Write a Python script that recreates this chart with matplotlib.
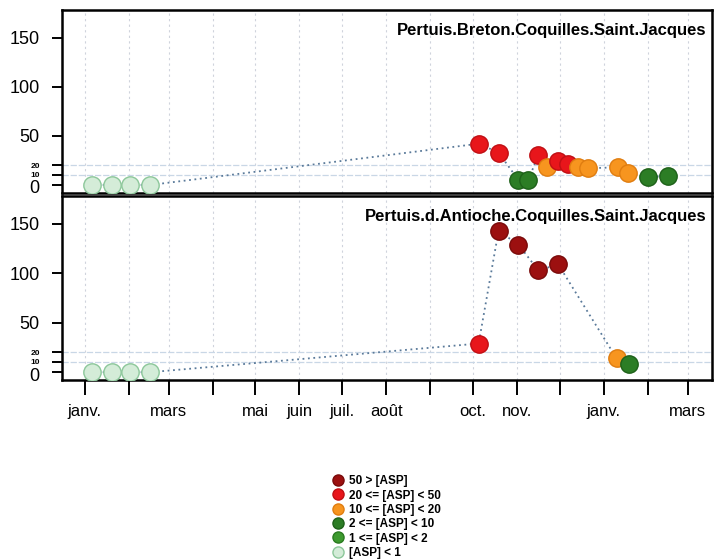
import matplotlib
matplotlib.use("Agg")
import matplotlib.pyplot as plt
import matplotlib.transforms as mtransforms
from matplotlib.lines import Line2D
import numpy as np
import pandas as pd

plt.rcParams['font.family'] = ['Liberation Sans', 'DejaVu Sans']

# ---- data ----
breton_dates = ["2014-01-06", "2014-01-20", "2014-02-02", "2014-02-16",
                "2014-10-05", "2014-10-19", "2014-11-02", "2014-11-09",
                "2014-11-16", "2014-11-22", "2014-11-30", "2014-12-07",
                "2014-12-14", "2014-12-21", "2015-01-11", "2015-01-18",
                "2015-02-01", "2015-02-15"]
breton_values = [0, 0, 0, 0, 42, 33, 5, 5, 31, 18, 24, 21, 18, 17, 18, 12, 8, 9]

antioche_dates = ["2014-01-06", "2014-01-20", "2014-02-02", "2014-02-16",
                  "2014-10-05", "2014-10-19", "2014-11-02", "2014-11-16",
                  "2014-11-30", "2015-01-10", "2015-01-19"]
antioche_values = [0, 0, 0, 0, 29, 143, 129, 103, 109, 14, 8]

panel_titles = ["Pertuis.Breton.Coquilles.Saint.Jacques",
                "Pertuis.d.Antioche.Coquilles.Saint.Jacques"]

class_labels = ["50 > [ASP]", "20 <= [ASP] < 50", "10 <= [ASP] < 20",
                "2 <= [ASP] < 10", "1 <= [ASP] < 2", "[ASP] < 1"]
class_lower = [50, 20, 10, 2, 1, -np.inf]
class_face = ["#9c1010", "#e8161b", "#f7951f", "#2c7d25", "#3d9a2e", "#d4ecd8"]
class_edge = ["#7a0a0a", "#c00f14", "#e07d10", "#1e6119", "#2a7a20", "#8cc79a"]

month_labels = {1: "janv.", 3: "mars", 5: "mai", 6: "juin", 7: "juil.",
                8: "août", 10: "oct.", 11: "nov."}
month_ticks = pd.date_range("2014-01-01", "2015-03-01", freq="MS")

y_ticks = [0, 10, 20, 50, 100, 150]


def classify(v):
    for i, lo in enumerate(class_lower):
        if v >= lo:
            return i
    return len(class_lower) - 1


fig = plt.figure(figsize=(7.22, 5.59), dpi=100)
ax_top = fig.add_axes([0.0859, 0.655, 0.900, 0.327])
ax_bot = fig.add_axes([0.0859, 0.320, 0.900, 0.329], sharex=ax_top)

series = [(breton_dates, breton_values), (antioche_dates, antioche_values)]

for ax, (dts, vals), title in zip([ax_top, ax_bot], series, panel_titles):
    x = pd.to_datetime(dts)
    # month grid
    for m in month_ticks:
        ax.axvline(m, color="#cfd3dc", lw=0.8, ls=(0, (2, 3)), zorder=0)
    # reference levels
    for lvl in (10, 20):
        ax.axhline(lvl, color="#c9d7e6", lw=0.9, ls=(0, (5, 1.5)), zorder=0)
    ax.plot(x, vals, ls=(0, (1, 2)), color="#5a7a9a", lw=1.3, zorder=1)
    for xi, v in zip(x, vals):
        c = classify(v)
        ax.plot([xi], [v], marker="o", ms=12.5, mfc=class_face[c],
                mec=class_edge[c], mew=1.0, ls="none", zorder=3)
    ax.set_ylim(-8, 178)
    ax.set_yticks(y_ticks)
    ax.set_yticklabels([str(t) for t in y_ticks])
    ax.tick_params(axis="y", length=7, width=1.4, pad=9)
    for lab, t in zip(ax.get_yticklabels(), y_ticks):
        if t in (10, 20):
            lab.set_fontsize(6)
            lab.set_fontweight("bold")
            if t == 10:
                lab.set_transform(lab.get_transform() +
                                  mtransforms.ScaledTranslation(0, 1 / 100, fig.dpi_scale_trans))
        else:
            lab.set_fontsize(13)
            if t == 0:
                lab.set_transform(lab.get_transform() +
                                  mtransforms.ScaledTranslation(0, -2 / 100, fig.dpi_scale_trans))
    for sp in ax.spines.values():
        sp.set_linewidth(1.8)
    ax.text(0.992, 0.89, title, transform=ax.transAxes, ha="right", va="center",
            fontsize=12, fontweight="bold")

ax_top.set_xlim(pd.Timestamp("2013-12-16"), pd.Timestamp("2015-03-18"))
ax_bot.set_xticks(month_ticks)
ax_bot.set_xticklabels([month_labels.get(m.month, "") for m in month_ticks])
ax_bot.tick_params(axis="x", length=11, width=1.4, pad=6, labelsize=12)
ax_top.tick_params(axis="x", bottom=False, labelbottom=False)

handles = [Line2D([], [], marker="o", ls="none", ms=8, mfc=f, mec=e, mew=1.0)
           for f, e in zip(class_face, class_edge)]
leg = fig.legend(handles, class_labels, loc="upper left",
                 bbox_to_anchor=(0.462, 0.150), frameon=False,
                 prop={"size": 8.5, "weight": "bold"}, handlelength=0.8,
                 handletextpad=0.5, labelspacing=0.2, borderpad=0,
                 borderaxespad=0)

fig.savefig("out.png", dpi=100)
